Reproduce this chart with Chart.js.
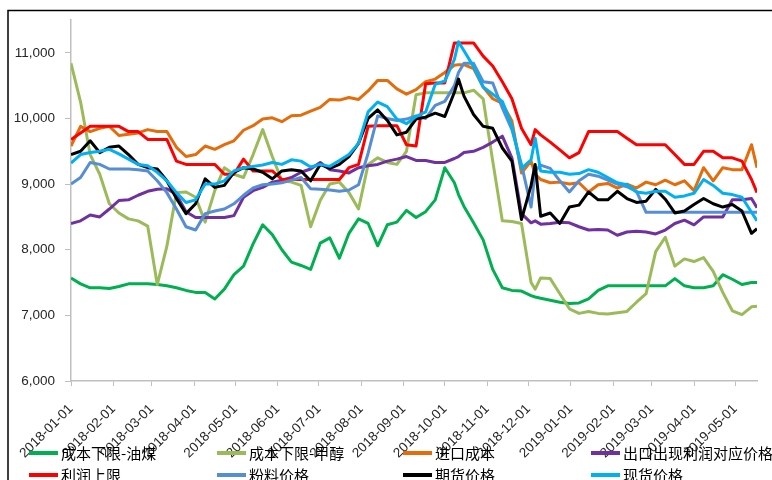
<!DOCTYPE html>
<html>
<head>
<meta charset="utf-8">
<script src="https://cdn.jsdelivr.net/npm/chart.js@4.4.1/dist/chart.umd.min.js"></script>
<style>
  html, body { margin: 0; padding: 0; background: #fff; }
  #wrap { width: 772px; height: 480px; }
</style>
</head>
<body>
<div id="wrap"><canvas id="c" width="772" height="480"></canvas></div>
<script>
// Observation dates (weekly, plus a few extra days around sharp moves)
const dates = [
  '2018-01-01','2018-01-08','2018-01-15','2018-01-22','2018-01-29',
  '2018-02-05','2018-02-12','2018-02-19','2018-02-26',
  '2018-03-05','2018-03-12','2018-03-19','2018-03-26',
  '2018-04-02','2018-04-09','2018-04-16','2018-04-23','2018-04-30',
  '2018-05-07','2018-05-14','2018-05-21','2018-05-28',
  '2018-06-04','2018-06-11','2018-06-18','2018-06-25',
  '2018-07-02','2018-07-09','2018-07-16','2018-07-23','2018-07-30',
  '2018-08-06','2018-08-13','2018-08-20','2018-08-27',
  '2018-09-03','2018-09-10','2018-09-17','2018-09-24',
  '2018-10-01','2018-10-08','2018-10-11','2018-10-15','2018-10-22','2018-10-29',
  '2018-11-05','2018-11-12','2018-11-19','2018-11-26',
  '2018-12-03','2018-12-06','2018-12-10','2018-12-17','2018-12-24','2018-12-31',
  '2019-01-07','2019-01-14','2019-01-21','2019-01-28',
  '2019-02-04','2019-02-11','2019-02-18','2019-02-25',
  '2019-03-04','2019-03-11','2019-03-18','2019-03-25',
  '2019-04-01','2019-04-08','2019-04-15','2019-04-22','2019-04-29',
  '2019-05-06','2019-05-13','2019-05-17'
];

// Month-start tick labels on the date axis
const monthTicks = [
  '2018-01-01','2018-02-01','2018-03-01','2018-04-01','2018-05-01','2018-06-01',
  '2018-07-01','2018-08-01','2018-09-01','2018-10-01','2018-11-01','2018-12-01',
  '2019-01-01','2019-02-01','2019-03-01','2019-04-01','2019-05-01'
];
const yTicks = [6000, 7000, 8000, 9000, 10000, 11000];

// Series values (元/吨)
const costFloorCoal = [
  7570,7480,7420,7420,7410,7440,7480,7480,7480,7470,
  7450,7420,7380,7350,7350,7250,7400,7620,7750,8090,
  8380,8230,8000,7810,7760,7700,8100,8180,7870,8250,
  8470,8400,8060,8380,8420,8600,8490,8580,8760,9250,
  9020,8840,8660,8410,8150,7700,7420,7380,7370,7300,
  7280,
  7260,7230,7200,7180,7190,7250,7380,7450,7450,7450,
  7450,7450,7450,7450,7560,7450,7420,7420,7450,7620,
  7550,7470,7500,7500
];
const costFloorMethanol = [
  10840,10250,9450,9150,8700,8560,8470,8440,8360,7470,
  8050,8870,8880,8800,8420,8900,9250,9150,9100,9450,
  9830,9420,9050,9030,8980,8350,8750,9000,9030,8870,
  8620,9300,9400,9330,9300,9500,10360,10390,10390,10390,
  10390,10390,10390,10430,10300,9350,8440,8430,8400,7500,
  7400,
  7570,7560,7330,7100,7030,7060,7030,7020,7040,7060,
  7200,7330,7970,8190,7750,7860,7820,7880,7670,7350,
  7070,7010,7130,7140
];
const importCost = [
  9580,9880,9800,9850,9880,9740,9760,9780,9830,9800,
  9800,9560,9420,9450,9580,9530,9600,9660,9820,9890,
  9990,10010,9950,10040,10050,10110,10170,10290,10280,10320,
  10290,10420,10580,10580,10450,10370,10440,10560,10600,10700,
  10810,10820,10820,10760,10480,10300,10230,9960,9170,9350,
  9150,
  9070,9020,9030,9000,9020,8880,8990,9010,8940,9000,
  8940,9030,8990,9060,8990,9050,8900,9250,9050,9250,
  9220,9220,9600,9250
];
const exportParity = [
  8400,8440,8530,8500,8620,8750,8760,8830,8890,8920,
  8930,8840,8580,8490,8490,8490,8490,8520,8800,8900,
  8950,9030,9060,9100,9180,9230,9330,9220,9200,9170,
  9250,9280,9300,9350,9380,9420,9360,9360,9330,9330,
  9390,9420,9480,9500,9560,9640,9730,9400,8550,8410,
  8440,
  8390,8400,8420,8410,8350,8300,8310,8300,8220,8270,
  8280,8270,8240,8300,8400,8450,8380,8500,8500,8500,
  8760,8760,8780,8640
];
const profitCeiling = [
  9680,9780,9880,9880,9880,9880,9800,9800,9680,9680,
  9680,9350,9300,9300,9300,9300,9150,9150,9380,9200,
  9200,9200,9070,9070,9070,9070,9070,9070,9070,9250,
  9300,9880,9890,9890,9890,9600,9580,10530,10540,10540,
  11150,11150,11150,11150,10950,10800,10560,10300,9850,9600,
  9830,
  9750,9640,9520,9400,9480,9800,9800,9800,9800,9700,
  9600,9600,9600,9600,9450,9300,9300,9500,9500,9400,
  9400,9350,9070,8870
];
const powderPrice = [
  9000,9100,9330,9300,9230,9230,9230,9220,9200,9050,
  8870,8620,8350,8300,8550,8590,8620,8700,8830,8940,
  8990,9000,9020,9060,9100,8930,8920,8910,8890,8910,
  8990,9470,10040,10000,9970,9990,10040,10000,10200,10260,
  10500,10700,10840,10840,10560,10540,10160,9830,9300,8650,
  9200,
  9290,9240,9050,8880,9050,9150,9120,9060,9000,8960,
  8890,8570,8570,8570,8570,8570,8570,8570,8570,8570,
  8570,8570,8570,8570
];
const futuresPrice = [
  9450,9500,9660,9480,9560,9580,9450,9300,9250,9230,
  9050,8780,8550,8700,9080,8950,8980,9180,9250,9230,
  9180,9080,9200,9220,9200,9050,9300,9240,9300,9420,
  9620,10000,10130,9970,9750,9790,9990,10020,10080,10030,
  10400,10600,10340,10060,9880,9850,9550,9350,8460,8980,
  9300,
  8510,8560,8400,8650,8680,8880,8760,8760,8890,8780,
  8720,8740,8920,8770,8560,8590,8690,8780,8700,8650,
  8690,8590,8250,8320
];
const spotPrice = [
  9320,9450,9480,9500,9530,9460,9380,9300,9280,9180,
  9050,8870,8720,8760,9000,9000,9050,9200,9250,9270,
  9290,9330,9300,9370,9350,9260,9300,9270,9360,9450,
  9620,10100,10250,10180,9990,9920,10030,10100,10520,10570,
  10900,11170,11030,10790,10480,10370,10260,9880,9240,9370,
  9700,
  9200,9180,9180,9150,9160,9220,9180,9100,9020,8990,
  8880,8860,8890,8890,8800,8820,8860,9070,8980,8860,
  8840,8800,8570,8440
];

const seriesNames = ['成本下限-油煤','成本下限-甲醇','进口成本','出口出现利润对应价格',
                     '利润上限','粉料价格','期货价格','现货价格'];
const seriesValues = [costFloorCoal, costFloorMethanol, importCost, exportParity,
                      profitCeiling, powderPrice, futuresPrice, spotPrice];
const seriesColors = ['#00B050','#9BBB59','#E46C0A','#7030A0',
                      '#FF0000','#558ED5','#000000','#00B0F0'];

// Day offset from the first month tick, used as the linear x coordinate
const origin = Date.UTC(2018, 0, 1);
function dayOf(s) {
  return (Date.UTC(+s.slice(0, 4), +s.slice(5, 7) - 1, +s.slice(8, 10)) - origin) / 86400000;
}
const lastDay = dayOf(dates[dates.length - 1]);

const tickFont = { family: '"Liberation Sans", Arial, sans-serif', size: 13.5 };
const tickColor = '#262626';
const axisColor = '#BFBFBF';

// Legend laid out as a fixed 4-column grid below the axis
const legendCols = [29, 217, 403, 591];
const legendRows = [453, 475];

const framePlugin = {
  id: 'frame',
  beforeDraw(chart) {
    const ctx = chart.ctx;
    ctx.save();
    ctx.fillStyle = '#ffffff';
    ctx.fillRect(0, 0, chart.width, chart.height);
    ctx.strokeStyle = '#000000';
    ctx.lineWidth = 1.5;
    ctx.strokeRect(8, 10.5, 790, 500);
    ctx.restore();
  }
};

const gridLegend = {
  id: 'gridLegend',
  afterDraw(chart) {
    const ctx = chart.ctx;
    ctx.save();
    ctx.font = '15px "Noto Sans CJK SC", sans-serif';
    ctx.textBaseline = 'middle';
    ctx.textAlign = 'left';
    chart.data.datasets.forEach((ds, i) => {
      const x = legendCols[i % 4];
      const y = legendRows[Math.floor(i / 4)];
      ctx.strokeStyle = ds.borderColor;
      ctx.lineWidth = 4;
      ctx.lineCap = 'butt';
      ctx.beginPath();
      ctx.moveTo(x, y);
      ctx.lineTo(x + 29, y);
      ctx.stroke();
      ctx.fillStyle = '#000000';
      ctx.fillText(ds.label, x + 32, y);
    });
    ctx.restore();
  }
};

const datasets = seriesNames.map((name, i) => ({
  label: name,
  data: seriesValues[i].map((v, j) => ({ x: dayOf(dates[j]), y: v })),
  borderColor: seriesColors[i],
  backgroundColor: seriesColors[i],
  borderWidth: 3,
  borderJoinStyle: 'round',
  pointRadius: 0,
  tension: 0,
  fill: false,
  order: seriesNames.length - i
}));

new Chart(document.getElementById('c'), {
  type: 'line',
  data: { datasets },
  plugins: [framePlugin, gridLegend],
  options: {
    responsive: false,
    animation: false,
    devicePixelRatio: 1,
    layout: { padding: { left: 0, right: 15, top: 20, bottom: 0 } },
    plugins: { legend: { display: false }, tooltip: { enabled: false } },
    scales: {
      x: {
        type: 'linear',
        min: 0,
        max: lastDay,
        afterBuildTicks: s => { s.ticks = monthTicks.map(d => ({ value: dayOf(d) })); },
        afterFit: s => { s.height = 99; },
        ticks: {
          autoSkip: false,
          minRotation: 45,
          maxRotation: 45,
          padding: 15,
          color: tickColor,
          font: tickFont,
          callback: (v, idx) => monthTicks[idx]
        },
        grid: { drawOnChartArea: false, drawTicks: true, tickLength: 5, color: axisColor, lineWidth: 1 },
        border: { color: axisColor, width: 1.5 }
      },
      y: {
        min: 6000,
        max: 11500,
        afterBuildTicks: s => { s.ticks = yTicks.map(v => ({ value: v })); },
        afterFit: s => { s.width = 71; },
        ticks: {
          padding: 10,
          color: tickColor,
          font: tickFont,
          callback: v => v.toLocaleString('en-US')
        },
        grid: { drawOnChartArea: false, drawTicks: true, tickLength: 6, color: axisColor, lineWidth: 1 },
        border: { color: axisColor, width: 1.5 }
      }
    }
  }
});
</script>
</body>
</html>
